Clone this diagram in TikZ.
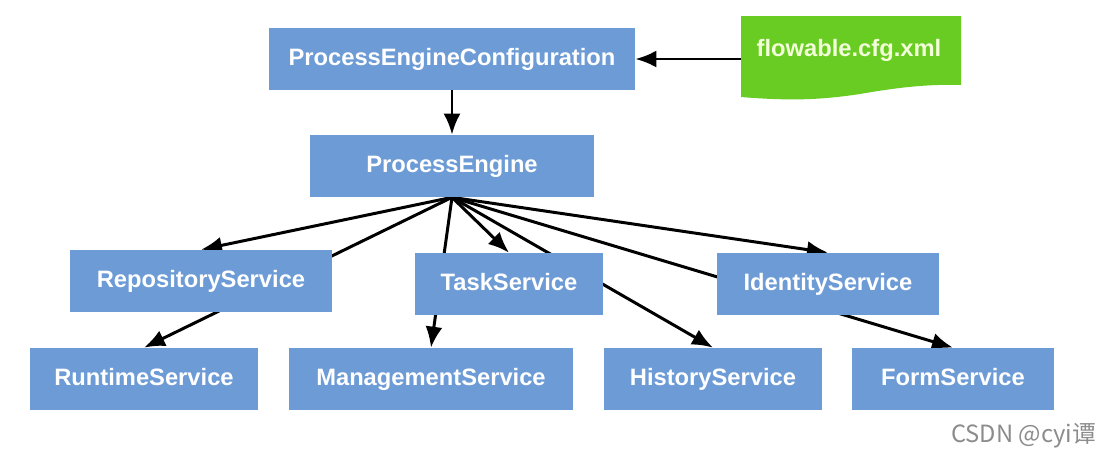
\documentclass[tikz,border=0pt]{standalone}
\usepackage{fontspec}
\setmainfont{Liberation Sans}
\newfontfamily\cjk{Noto Sans CJK SC}
\usetikzlibrary{arrows.meta,backgrounds}
\definecolor{boxblue}{HTML}{6C9BD5}
\definecolor{cfggreen}{HTML}{68CC22}
\definecolor{cfgtext}{HTML}{F2FFD8}

\begin{document}
\begin{tikzpicture}[x=0.02cm,y=-0.02cm,
    svc/.style={rectangle,fill=boxblue,text=white,inner sep=0pt,
      minimum height=1.24cm,text height=10pt,text depth=3pt,
      font=\fontsize{13.5}{16}\selectfont\bfseries},
    link/.style={line width=1.7pt,-{Latex[length=0.42cm,width=0.34cm]}}]
  \useasboundingbox (0,0) rectangle (1100,464);

  % config file
  \fill[cfggreen] (741,16) -- (961,16) -- (961,85)
    .. controls (930,84) and (900,87) .. (860,94)
    .. controls (820,100) and (790,101) .. (741,97) -- cycle;
  \node[text=cfgtext,font=\fontsize{13.5}{16}\selectfont\bfseries] (cfg) at (849,50) {flowable.cfg.xml};
  \coordinate (cfgin) at (741,59);

  % engine
  \node[svc,minimum width=7.32cm] (pec) at (452,59) {ProcessEngineConfiguration};
  \node[svc,minimum width=5.68cm] (pe) at (452,166) {ProcessEngine};

  % services
  \node[svc,minimum width=5.24cm] (repo) at (201,281) {RepositoryService};
  \node[svc,minimum width=3.78cm] (task) at (509,284) {TaskService};
  \node[svc,minimum width=4.46cm] (ident) at (828,284) {IdentityService};
  \node[svc,minimum width=4.56cm] (runtime) at (144,379) {RuntimeService};
  \node[svc,minimum width=5.68cm] (mgmt) at (431,379) {ManagementService};
  \node[svc,minimum width=4.36cm] (hist) at (713,379) {HistoryService};
  \node[svc,minimum width=4.06cm] (form) at (953,379) {FormService};

  \draw[link] (cfgin) -- (pec.east);
  \draw[link] (pec.south) -- (pe.north);
  \begin{scope}[on background layer]
    \fill[white] (0,0) rectangle (1100,464);
    \foreach \s in {repo,runtime,task,mgmt,hist,ident,form}
      \draw[link] (pe.south) -- (\s.north);
  \end{scope}

  \node[anchor=west,text=black!45,font=\cjk\fontsize{13.5}{15}\selectfont] (mark) at (945,436) {CSDN @cyi谭};
\end{tikzpicture}
\end{document}
